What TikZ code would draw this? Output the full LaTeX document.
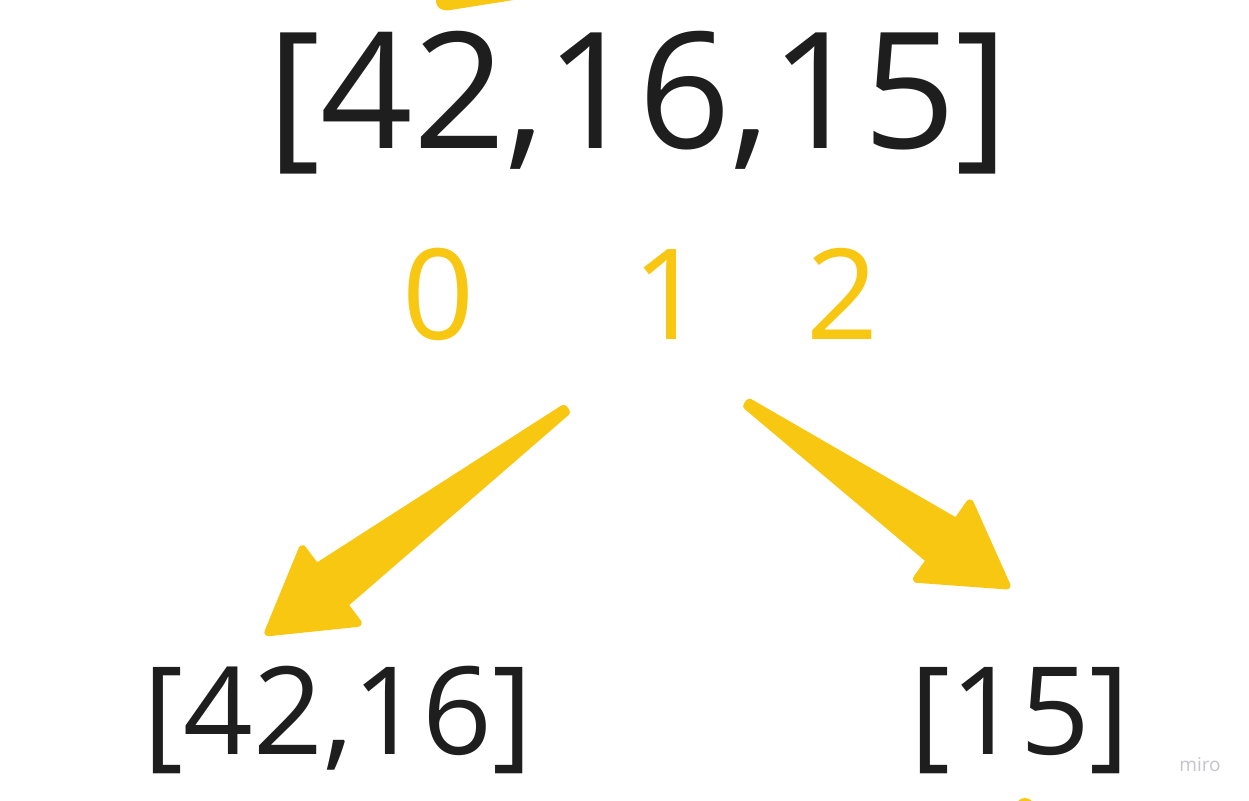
\documentclass[tikz,border=0pt]{standalone}
\usepackage{fontspec}
\setmainfont{Open Sans}
\usetikzlibrary{calc}
\definecolor{ink}{HTML}{1E1E1E}
\definecolor{miroyellow}{HTML}{F8C712}
\definecolor{wmgray}{HTML}{C4C4CC}
\tikzset{
  bigtext/.style={inner sep=0pt, anchor=base, text=ink, font=\fontsize{162}{162}\selectfont},
  midtext/.style={inner sep=0pt, anchor=base, text=ink, font=\fontsize{122}{122}\selectfont},
  idxtext/.style={inner sep=0pt, anchor=base, text=miroyellow, font=\fontsize{126}{126}\selectfont},
  wmtext/.style={inner sep=0pt, anchor=base, text=wmgray, font=\fontsize{19}{19}\selectfont},
  yshape/.style={fill=miroyellow, draw=miroyellow, line width=8pt, line join=round, line cap=round}
}
% tapered arrow from #1 (tail) to #2 (tip)
\newcommand{\taperarrow}[2]{%
  \coordinate (TT) at ($(#1)!4pt!(#2)$);
  \coordinate (PP) at ($(#2)!8pt!(#1)$);
  \coordinate (BB) at ($(#2)!85pt!(#1)$);
  \filldraw[yshape]
    ($(TT)!2pt!90:(#2)$) --
    ($(BB)!23pt!-90:(#1)$) --
    ($(BB)!46pt!-90:(#1)$) --
    (PP) --
    ($(BB)!46pt!90:(#1)$) --
    ($(BB)!23pt!90:(#1)$) --
    ($(TT)!2pt!-90:(#2)$) -- cycle;
}
\begin{document}
\begin{tikzpicture}[x=1pt,y=-1pt]
\useasboundingbox (0,0) rectangle (1249,800);
\fill[white] (0,0) rectangle (1249,800);
\begin{scope}
\clip (0,0) rectangle (1249,800);
% partial shapes at the edges
\fill[miroyellow, rounded corners=4pt] (436,-6) -- (436,6) -- (444,11) -- (520,-1) -- (520,-6) -- cycle;
\fill[miroyellow] (1025,807) circle (9);

% texts
\node[bigtext] (top) at (638,148) {[42,16,15]};
\node[idxtext] (i0) at (439,339) {0};
\node[idxtext] (i1) at (669,339) {1};
\node[idxtext] (i2) at (843,339) {2};
\node[midtext] (left) at (338,754) {[42,16]};
\node[midtext] (right) at (1020,754) {[15]};
\node[wmtext] (wm) at (1200,771) {miro};

% arrows
\coordinate (la-s) at (568,408);
\coordinate (la-e) at (262,637);
\coordinate (ra-s) at (745,402);
\coordinate (ra-e) at (1013,590);
\taperarrow{la-s}{la-e}
\taperarrow{ra-s}{ra-e}
\end{scope}
\end{tikzpicture}
\end{document}
